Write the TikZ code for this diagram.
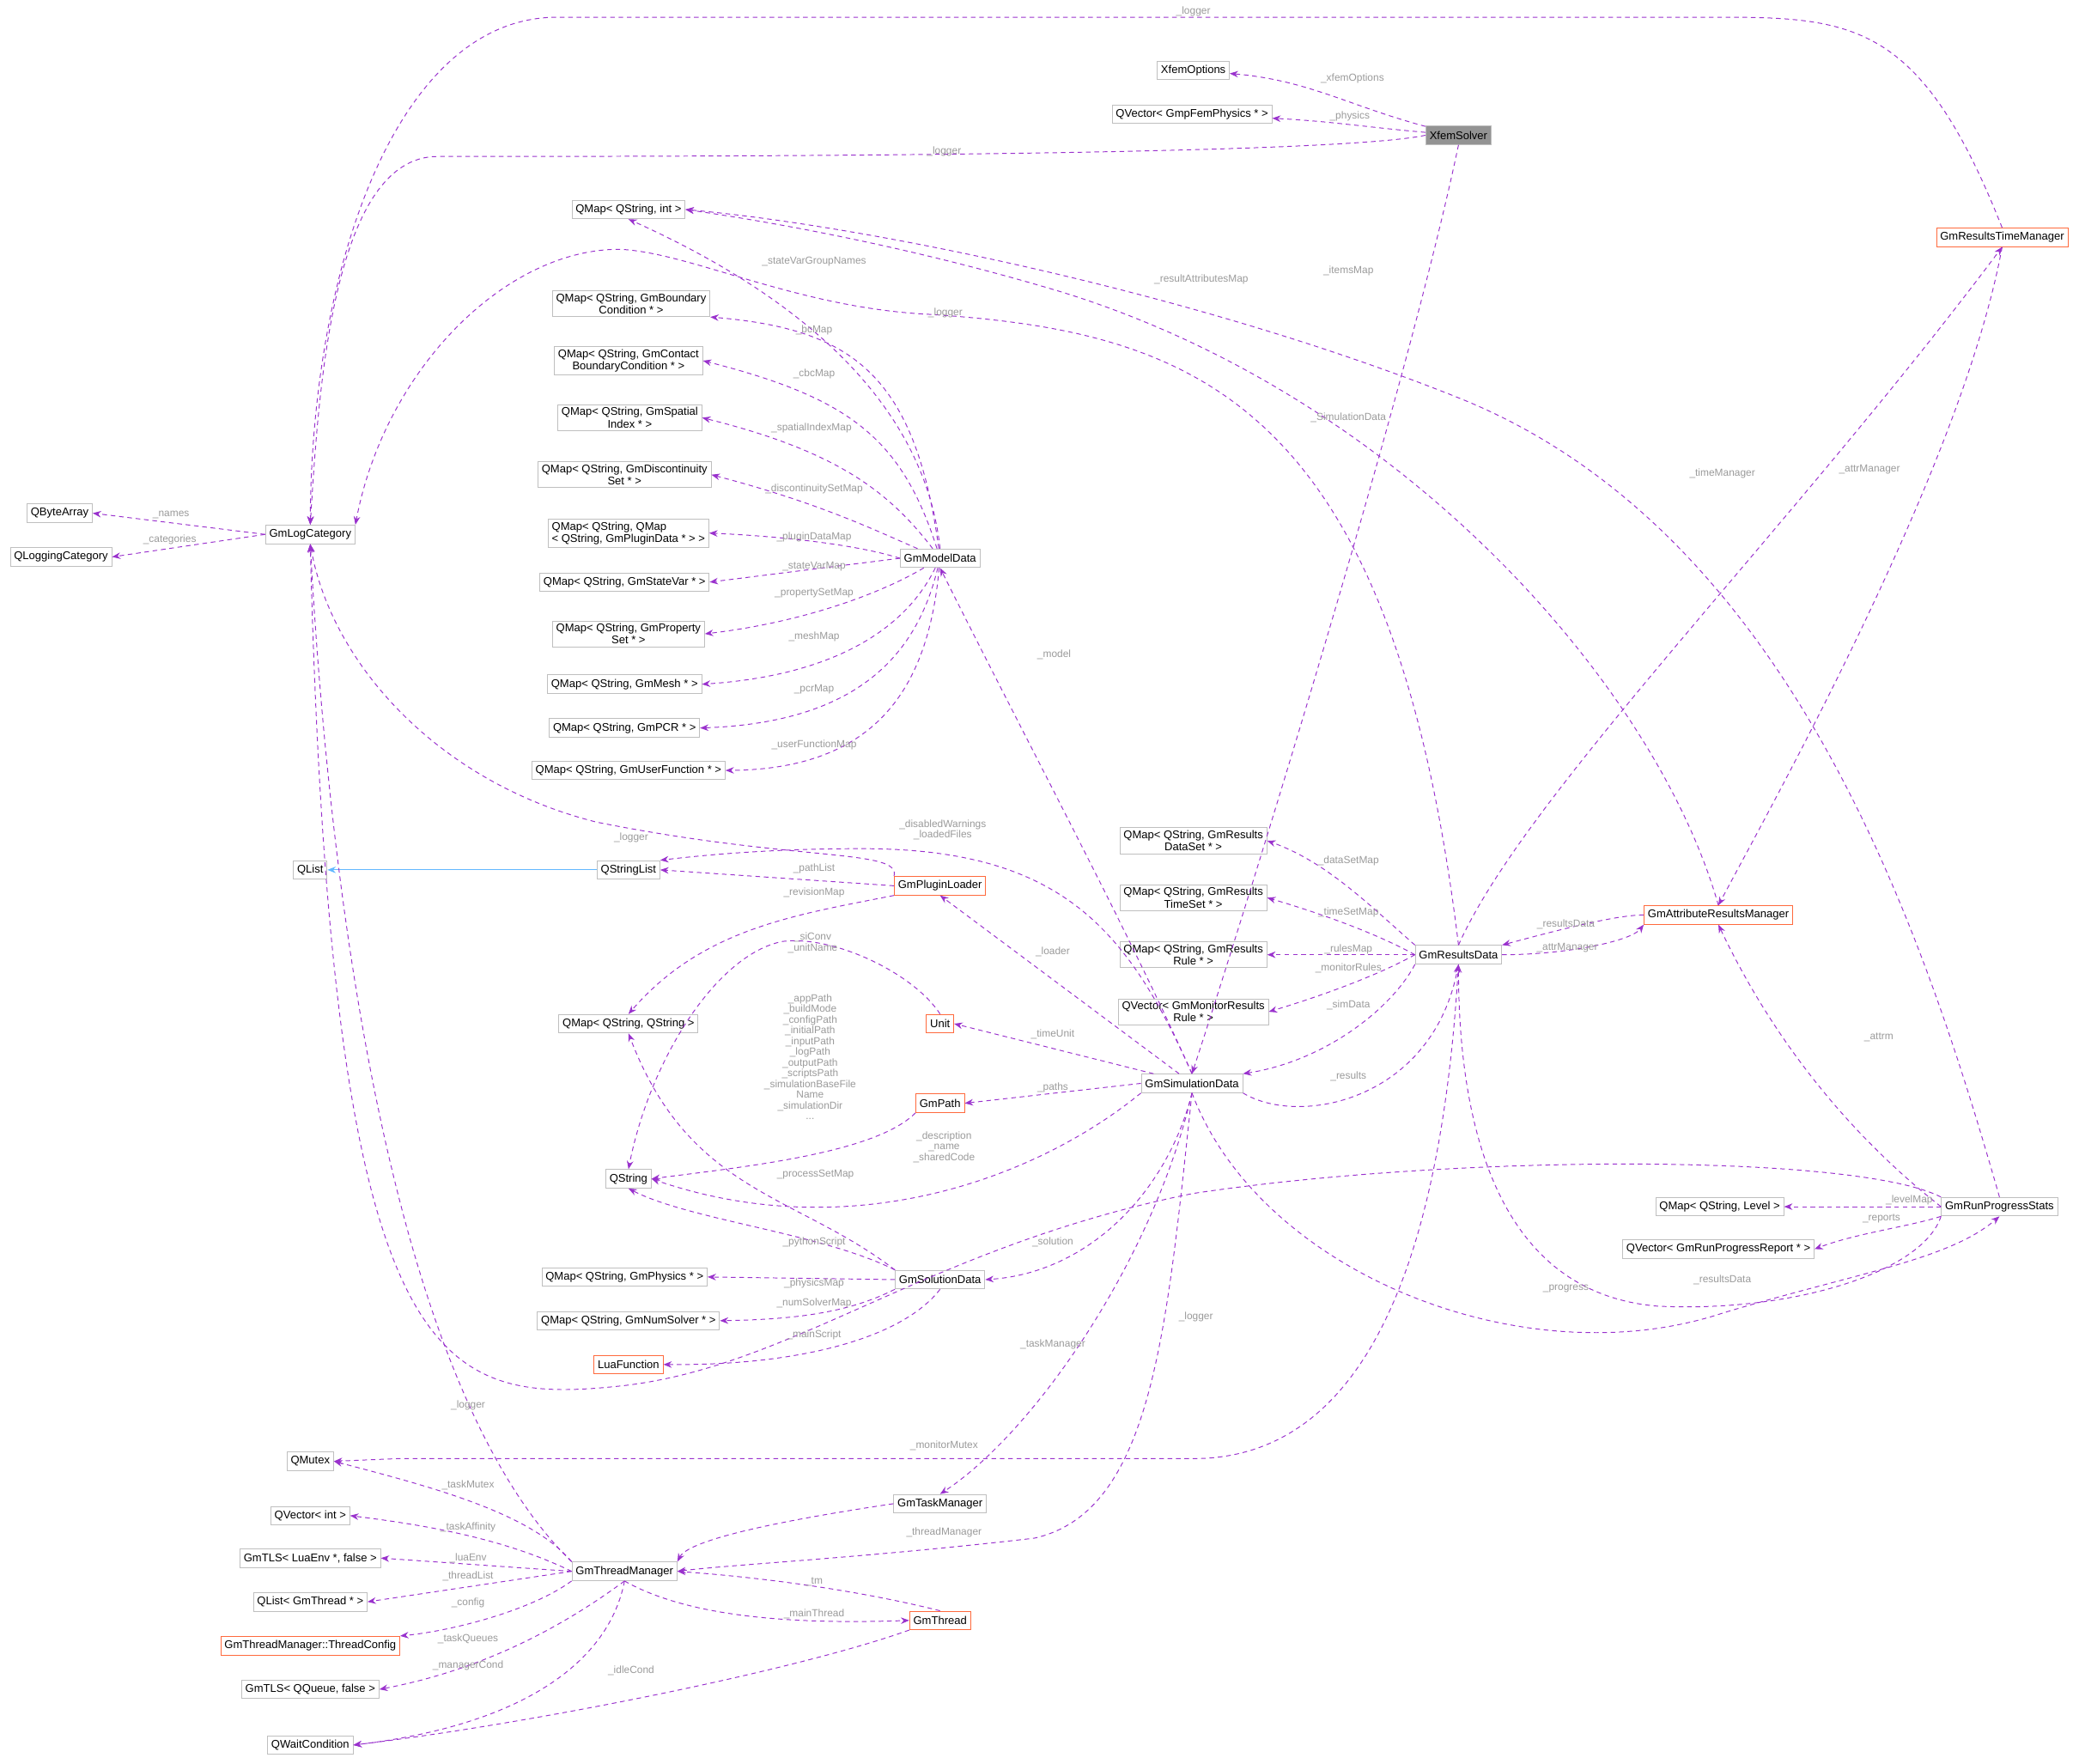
\documentclass[tikz,border=0pt]{standalone}
\usepackage{fontspec}
\setmainfont{Liberation Sans}
\usetikzlibrary{arrows.meta}
\definecolor{edgec}{HTML}{9A32CD}
\definecolor{lblc}{HTML}{9A9A9A}
\definecolor{boxc}{HTML}{BFBFBF}
\definecolor{redc}{HTML}{FF6A3D}
\definecolor{inhc}{HTML}{63B8FF}
\begin{document}
\begin{tikzpicture}[x=0.05cm,y=-0.05cm,
  box/.style={draw=boxc,fill=white,font=\fontsize{12}{13}\selectfont,align=center,inner xsep=4pt,inner ysep=3pt,minimum height=0.7cm,line width=0.8pt},
  red/.style={box,draw=redc},
  e/.style={draw=edgec,dashed,dash pattern=on 5pt off 4pt,line width=0.9pt,-{Stealth[length=9pt,width=7pt]}},
  lbl/.style={font=\fontsize{11}{11.5}\selectfont,text=lblc,align=center,inner sep=1pt}]
\useasboundingbox (0,0) rectangle (1568,1330);
% nodes
\node[box] (xo) at (900,53) {XfemOptions};
\node[box] (qvp) at (899,86) {QVector< GmpFemPhysics * >};
\node[box,fill=gray!85] (xs) at (1100,102) {XfemSolver};
\node[box] (qmi) at (474,158) {QMap< QString, int >};
\node[red] (rtm) at (1510,179) {GmResultsTimeManager};
\node[box] (qbc) at (476,229) {QMap< QString, GmBoundary\\Condition * >};
\node[box] (qcbc) at (474,272) {QMap< QString, GmContact\\BoundaryCondition * >};
\node[box] (qsi) at (475,315) {QMap< QString, GmSpatial\\Index * >};
\node[box] (qds) at (471,358) {QMap< QString, GmDiscontinuity\\Set * >};
\node[box,align=left] (qpd) at (474,402) {QMap< QString, QMap\\< QString, GmPluginData * > >};
\node[box] (qba) at (45,387) {QByteArray};
\node[box] (qlc) at (46,420) {QLoggingCategory};
\node[box] (lc) at (234,403) {GmLogCategory};
\node[box] (md) at (709,421) {GmModelData};
\node[box] (qsv) at (471,439) {QMap< QString, GmStateVar * >};
\node[box] (qps) at (474,478) {QMap< QString, GmProperty\\Set * >};
\node[box] (qme) at (471,516) {QMap< QString, GmMesh * >};
\node[box] (qpcr) at (471,549) {QMap< QString, GmPCR * >};
\node[box] (quf) at (474,581) {QMap< QString, GmUserFunction * >};
\node[box] (qrds) at (900,634) {QMap< QString, GmResults\\DataSet * >};
\node[box] (ql) at (234,656) {QList};
\node[box] (qsl) at (474,656) {QStringList};
\node[red] (pl) at (709,668) {GmPluginLoader};
\node[box] (qrts) at (900,677) {QMap< QString, GmResults\\TimeSet * >};
\node[red] (arm) at (1296,690) {GmAttributeResultsManager};
\node[box] (qrr) at (900,720) {QMap< QString, GmResults\\Rule * >};
\node[box] (rd) at (1100,720) {GmResultsData};
\node[box] (qmr) at (900,763) {QVector< GmMonitorResults\\Rule * >};
\node[box] (qss) at (474,772) {QMap< QString, QString >};
\node[red] (un) at (709,772) {Unit};
\node[red] (gp) at (709,832) {GmPath};
\node[box] (sd) at (899,817) {GmSimulationData};
\node[box] (qs) at (474,889) {QString};
\node[box] (qlv) at (1297,910) {QMap< QString, Level >};
\node[box] (rps) at (1508,910) {GmRunProgressStats};
\node[box] (qrep) at (1296,942) {QVector< GmRunProgressReport * >};
\node[box] (qph) at (471,963) {QMap< QString, GmPhysics * >};
\node[box] (sol) at (709,965) {GmSolutionData};
\node[box] (qns) at (474,996) {QMap< QString, GmNumSolver * >};
\node[red] (lf) at (474,1029) {LuaFunction};
\node[box] (mx) at (234,1102) {QMutex};
\node[box] (tm) at (709,1134) {GmTaskManager};
\node[box] (qvi) at (234,1143) {QVector< int >};
\node[box] (tls1) at (234,1175) {GmTLS< LuaEnv *, false >};
\node[box] (thm) at (471,1185) {GmThreadManager};
\node[box] (qlt) at (234,1208) {QList< GmThread * >};
\node[red] (tc) at (234,1241) {GmThreadManager::ThreadConfig};
\node[red] (th) at (709,1222) {GmThread};
\node[box] (tls2) at (234,1274) {GmTLS< QQueue, false >};
\node[box] (wc) at (234,1316) {QWaitCondition};
% edges
\draw[e] (xs) to[out=165,in=-5] (xo);
\draw[e] (xs) to[out=175,in=-3] (qvp);
\draw[e] (xs.west) .. controls (1000,118) and (500,118) .. (330,118) .. controls (250,118) and (240,300) .. (lc.north);
\draw[e] (rtm.north) .. controls (1450,20) and (1400,13) .. (1300,13) -- (420,13) .. controls (300,13) and (235,200) .. (lc.north);
\draw[e] (xs.south) .. controls (1060,300) and (935,700) .. (sd.north);
\draw[e] (md.north) .. controls (700,330) and (640,240) .. (qmi.south);
\draw[e] (md) .. controls (690,280) and (640,248) .. (qbc.south east);
\draw[e] (md) .. controls (680,330) and (640,300) .. (qcbc.east);
\draw[e] (md) .. controls (670,370) and (630,340) .. (qsi.east);
\draw[e] (md) .. controls (660,400) and (620,380) .. (qds.east);
\draw[e] (md.west) .. controls (650,412) and (600,405) .. (qpd.east);
\draw[e] (md.west) -- (qsv.east);
\draw[e] (md) .. controls (660,450) and (600,470) .. (qps.east);
\draw[e] (md) .. controls (680,480) and (620,510) .. (qme.east);
\draw[e] (md) .. controls (690,500) and (640,545) .. (qpcr.east);
\draw[e] (md) .. controls (700,520) and (660,580) .. (quf.east);
\draw[e] (lc.west) -- (qba.east);
\draw[e] (lc.west) -- (qlc.east);
\draw[draw=inhc,line width=0.9pt,-{Stealth[length=9pt,width=7pt]}] (qsl) -- (ql);
\draw[e] (pl.west) -- (qsl.east);
\draw[e] (sd.north) .. controls (850,700) and (800,640) .. (650,640) .. controls (580,640) and (530,645) .. (qsl.north east);
\draw[e] (pl.north west) .. controls (680,640) and (600,650) .. (450,620) .. controls (330,590) and (250,500) .. (lc.south);
\draw[e] (pl.south west) .. controls (600,690) and (530,700) .. (qss.north);
\draw[e] (sd) -- (pl.south);
\draw[e] (sd.north) .. controls (850,700) and (780,570) .. (md.south);
\draw[e] (sd) -- (un.east);
\draw[e] (sd.west) -- (gp.east);
\draw[e] (sd.south west) .. controls (780,890) and (640,940) .. (qs.east);
\draw[e] (sd.south) .. controls (880,900) and (820,960) .. (sol.east);
\draw[e] (sd.south) .. controls (870,950) and (780,1080) .. (tm.north);
\draw[e] (sd.south) .. controls (880,1000) and (870,1140) .. (780,1160) .. controls (650,1175) and (550,1180) .. (thm.east);
\draw[e] (sd.south east) .. controls (980,850) and (1080,830) .. (rd.south);
\draw[e] (rd.south west) .. controls (1050,760) and (1000,800) .. (sd.north east);
\draw[e] (sd.south) .. controls (950,960) and (1150,1040) .. (1300,990) .. controls (1400,960) and (1470,950) .. (rps.south);
\draw[e] (un.north) .. controls (690,735) and (630,705) .. (590,710) .. controls (540,720) and (490,800) .. (qs.north);
\draw[e] (gp.south west) .. controls (660,870) and (560,880) .. (qs.east);
\draw[e] (sol.north west) .. controls (600,900) and (520,900) .. (qss.south);
\draw[e] (sol.north west) .. controls (620,930) and (520,920) .. (qs.south);
\draw[e] (sol.west) -- (qph.east);
\draw[e] (sol.south west) .. controls (640,990) and (600,995) .. (qns.east);
\draw[e] (sol.south) .. controls (680,1010) and (600,1030) .. (lf.east);
\draw[e] (rd.north west) .. controls (1030,680) and (1000,650) .. (qrds.east);
\draw[e] (rd.west) .. controls (1040,705) and (1000,690) .. (qrts.east);
\draw[e] (rd.west) -- (qrr.east);
\draw[e] (rd.west) .. controls (1040,735) and (1000,750) .. (qmr.east);
\draw[e] (rd.north) .. controls (1150,600) and (1350,400) .. (rtm.south);
\draw[e] (rd.east) .. controls (1180,720) and (1230,710) .. (arm.south west);
\draw[e] (arm.west) .. controls (1220,690) and (1180,700) .. (rd.north east);
\draw[e] (rtm.south) .. controls (1480,350) and (1340,600) .. (arm.north);
\draw[e] (arm.north) .. controls (1250,520) and (1060,300) .. (800,220) .. controls (700,190) and (600,170) .. (qmi.east);
\draw[e] (rd.north) .. controls (1050,300) and (900,250) .. (700,237) .. controls (600,232) and (520,190) .. (467,188) .. controls (380,188) and (290,280) .. (lc.north east);
\draw[e] (rps.north) .. controls (1450,700) and (1350,400) .. (1100,300) .. controls (900,220) and (650,170) .. (qmi.east);
\draw[e] (rps.west) .. controls (1400,860) and (1340,790) .. (arm.south);
\draw[e] (rps.west) -- (qlv.east);
\draw[e] (rps.south west) .. controls (1440,925) and (1400,930) .. (qrep.east);
\draw[e] (rps.south west) .. controls (1450,960) and (1350,990) .. (1250,985) .. controls (1130,975) and (1100,850) .. (rd.south);
\draw[e] (rps.north west) .. controls (1400,870) and (1100,870) .. (900,900) .. controls (700,940) and (600,1030) .. (470,1045) .. controls (330,1060) and (250,1040) .. (lc.south);
\draw[e] (rd.south) .. controls (1090,900) and (1050,1100) .. (900,1100) -- (300,1100) -- (mx.east);
\draw[e] (thm.north west) .. controls (400,1140) and (320,1120) .. (mx.east);
\draw[e] (thm.west) .. controls (380,1160) and (320,1150) .. (qvi.east);
\draw[e] (thm.west) -- (tls1.east);
\draw[e] (thm.west) -- (qlt.east);
\draw[e] (thm.south west) .. controls (400,1215) and (340,1230) .. (tc.north east);
\draw[e] (thm.south) .. controls (420,1230) and (360,1260) .. (tls2.east);
\draw[e] (thm.south) .. controls (460,1250) and (400,1300) .. (wc.east);
\draw[e] (thm.south) .. controls (520,1220) and (600,1225) .. (th.west);
\draw[e] (thm.north west) .. controls (300,1050) and (250,700) .. (lc.south);
\draw[e] (tm.west) .. controls (600,1145) and (520,1160) .. (thm.north east);
\draw[e] (th.north) .. controls (650,1200) and (580,1190) .. (thm.east);
\draw[e] (th.south west) .. controls (600,1260) and (400,1300) .. (wc.east);
% labels
\node[lbl] (l1) at (1020,59) {\_xfemOptions};
\node[lbl] (l2) at (1018,88) {\_physics};
\node[lbl] (l3) at (712,114) {\_logger};
\node[lbl] (l4) at (900,9) {\_logger};
\node[lbl] (l5) at (1017,315) {\_SimulationData};
\node[lbl] (l6) at (614,197) {\_stateVarGroupNames};
\node[lbl] (l7) at (713,236) {\_logger};
\node[lbl] (l8) at (906,211) {\_resultAttributesMap};
\node[lbl] (l9) at (1017,204) {\_itemsMap};
\node[lbl] (l10) at (614,249) {\_bcMap};
\node[lbl] (l11) at (614,282) {\_cbcMap};
\node[lbl] (l12) at (612,323) {\_spatialIndexMap};
\node[lbl] (l13) at (614,369) {\_discontinuitySetMap};
\node[lbl] (l14) at (614,405) {\_pluginDataMap};
\node[lbl] (l15) at (614,427) {\_stateVarMap};
\node[lbl] (l16) at (614,447) {\_propertySetMap};
\node[lbl] (l17) at (614,480) {\_meshMap};
\node[lbl] (l18) at (614,520) {\_pcrMap};
\node[lbl] (l19) at (614,562) {\_userFunctionMap};
\node[lbl] (l20) at (129,388) {\_names};
\node[lbl] (l21) at (128,407) {\_categories};
\node[lbl] (l22) at (476,632) {\_logger};
\node[lbl] (l23) at (711,626) {\_disabledWarnings\\\_loadedFiles};
\node[lbl] (l24) at (614,655) {\_pathList};
\node[lbl] (l25) at (614,673) {\_revisionMap};
\node[lbl] (l26) at (795,494) {\_model};
\node[lbl] (l27) at (794,718) {\_loader};
\node[lbl] (l28) at (794,780) {\_timeUnit};
\node[lbl] (l29) at (794,820) {\_paths};
\node[lbl] (l30) at (712,865) {\_description\\\_name\\\_sharedCode};
\node[lbl] (l31) at (613,711) {\_siConv\\\_unitName};
\node[lbl] (l32) at (611,797) {\_appPath\\\_buildMode\\\_configPath\\\_initialPath\\\_inputPath\\\_logPath\\\_outputPath\\\_scriptsPath\\\_simulationBaseFile\\Name\\\_simulationDir\\...};
\node[lbl] (l33) at (615,886) {\_processSetMap};
\node[lbl] (l34) at (614,937) {\_pythonScript};
\node[lbl] (l35) at (614,968) {\_physicsMap};
\node[lbl] (l36) at (614,983) {\_numSolverMap};
\node[lbl] (l37) at (614,1007) {\_mainScript};
\node[lbl] (l38) at (794,937) {\_solution};
\node[lbl] (l39) at (794,1014) {\_taskManager};
\node[lbl] (l40) at (712,1156) {\_threadManager};
\node[lbl] (l41) at (1017,649) {\_dataSetMap};
\node[lbl] (l42) at (1017,688) {\_timeSetMap};
\node[lbl] (l43) at (1017,716) {\_rulesMap};
\node[lbl] (l44) at (1017,730) {\_monitorRules};
\node[lbl] (l45) at (1017,758) {\_simData};
\node[lbl] (l46) at (1017,812) {\_results};
\node[lbl] (l47) at (1299,357) {\_timeManager};
\node[lbl] (l48) at (1410,354) {\_attrManager};
\node[lbl] (l49) at (1181,697) {\_resultsData};
\node[lbl] (l50) at (1182,715) {\_attrManager};
\node[lbl] (l51) at (1417,782) {\_attrm};
\node[lbl] (l52) at (1440,905) {\_levelMap};
\node[lbl] (l53) at (1419,919) {\_reports};
\node[lbl] (l54) at (1299,965) {\_resultsData};
\node[lbl] (l55) at (1181,972) {\_progress};
\node[lbl] (l56) at (902,993) {\_logger};
\node[lbl] (l57) at (712,1090) {\_monitorMutex};
\node[lbl] (l58) at (353,1060) {\_logger};
\node[lbl] (l59) at (353,1120) {\_taskMutex};
\node[lbl] (l60) at (353,1152) {\_taskAffinity};
\node[lbl] (l61) at (353,1175) {\_luaEnv};
\node[lbl] (l62) at (353,1189) {\_threadList};
\node[lbl] (l63) at (353,1209) {\_config};
\node[lbl] (l64) at (353,1236) {\_taskQueues};
\node[lbl] (l65) at (353,1256) {\_managerCond};
\node[lbl] (l66) at (614,1217) {\_mainThread};
\node[lbl] (l67) at (614,1193) {\_tm};
\node[lbl] (l68) at (476,1260) {\_idleCond};
\end{tikzpicture}
\end{document}
